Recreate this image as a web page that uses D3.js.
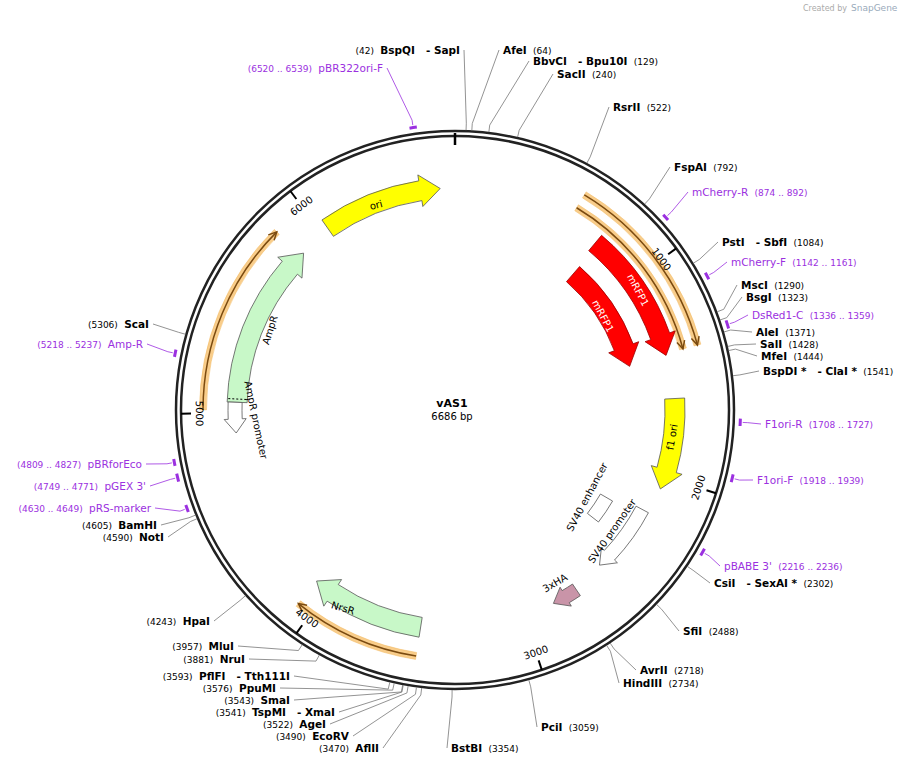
<!DOCTYPE html><html><head><meta charset="utf-8">
<script src="https://cdn.jsdelivr.net/npm/d3@7"></script>
<style>body{margin:0;background:#fff}</style></head><body>
<script>
const total = 6686;
const featNames = ["ori","mRFP1","mRFP1","f1 ori","SV40 enhancer","SV40 promoter","3xHA","NrsR","AmpR","AmpR promoter"];
const featStart = [6036,743,761,1616,2229,2191,2711,3510,5052,4903];
const featEnd   = [6615,1402,1411,2062,2377,2545,2842,4067,5869,5052];
const featDir   = [1,1,1,1,0,1,1,1,1,-1];
const bandStart = [576,576,3510,5015];
const bandEnd   = [1393,1393,4067,5850];
const bandDir   = [1,1,1,1];
const enzNames = ["BspQI\u00a0\u00a0 - SapI","AfeI","BbvCI\u00a0\u00a0 - Bpu10I","SacII","RsrII","FspAI","PstI\u00a0\u00a0 - SbfI","MscI","BsgI","AleI","SalI","MfeI","BspDI *\u00a0\u00a0 - ClaI *","CsiI\u00a0\u00a0 - SexAI *","SfiI","AvrII","HindIII","PciI","BstBI","AflII","EcoRV","AgeI","TspMI\u00a0\u00a0 - XmaI","SmaI","PpuMI","PflFI\u00a0\u00a0 - Tth111I","NruI","MluI","HpaI","NotI","BamHI","ScaI"];
const enzPos = [42,64,129,240,522,792,1084,1290,1323,1371,1428,1444,1541,2302,2488,2718,2734,3059,3354,3470,3490,3522,3541,3543,3576,3593,3881,3957,4243,4590,4605,5306];
const primNames = ["pBR322ori-F","mCherry-R","mCherry-F","DsRed1-C","F1ori-R","F1ori-F","pBABE 3'","pRS-marker","pGEX 3'","pBRforEco","Amp-R"];
const primStart = [6520,874,1142,1336,1708,1918,2216,4630,4749,4809,5218];
const primEnd   = [6539,892,1161,1359,1727,1939,2236,4649,4771,4827,5237];
const tickVals = [1000,2000,3000,4000,5000,6000];

const W=900,H=766,cx=455,cy=410,R=279;
const svg=d3.select("body").append("svg").attr("width",W).attr("height",H).style("font-family","DejaVu Sans, Verdana, sans-serif");
const ang=d3.scaleLinear().domain([0,total]).range([0,2*Math.PI]);
const P=(a,r)=>[cx+r*Math.sin(a),cy-r*Math.cos(a)];

svg.append("text").attr("x",803).attr("y",11).attr("font-size",8).attr("fill","#aaa").text("Created by");
svg.append("text").attr("x",851).attr("y",11).attr("font-size",9).attr("fill","#9ab").text("SnapGene");

const featR=[222,218,180,220,175,212,217,220,218,220];
const featW=[20,20,20,20,14,14,14,20,20,14];
const featFill=["#ffff00","#ff0000","#ff0000","#ffff00","#fff","#fff","#c994a8","#c8f8c8","#c8f8c8","#fff"];

function arrowPath(r,w,a0,a1,dir,hw,hlen){
  const p=d3.path();
  const ro=r+w/2, ri=r-w/2;
  if(dir===0){
    p.moveTo(...P(a0,ro));
    p.arc(cx,cy,ro,a0-Math.PI/2,a1-Math.PI/2,false);
    p.lineTo(...P(a1,ri));
    p.arc(cx,cy,ri,a1-Math.PI/2,a0-Math.PI/2,true);
    p.closePath(); return p.toString();
  }
  const h=hlen/r;
  if(dir===1){
    const b=a1-h;
    p.moveTo(...P(a0,ro));
    p.arc(cx,cy,ro,a0-Math.PI/2,b-Math.PI/2,false);
    p.lineTo(...P(b,ro+hw)); p.lineTo(...P(a1,r)); p.lineTo(...P(b,ri-hw)); p.lineTo(...P(b,ri));
    p.arc(cx,cy,ri,b-Math.PI/2,a0-Math.PI/2,true);
  } else {
    const b=a0+h;
    p.moveTo(...P(a1,ro));
    p.arc(cx,cy,ro,a1-Math.PI/2,b-Math.PI/2,true);
    p.lineTo(...P(b,ro+hw)); p.lineTo(...P(a0,r)); p.lineTo(...P(b,ri-hw)); p.lineTo(...P(b,ri));
    p.arc(cx,cy,ri,b-Math.PI/2,a1-Math.PI/2,false);
  }
  p.closePath(); return p.toString();
}

const bandR=[251,236,249,252];
bandStart.forEach((s,i)=>{
  const a0=ang(s),a1=ang(bandEnd[i]),r=bandR[i];
  svg.append("path").attr("d",d3.arc()({innerRadius:r-3.5,outerRadius:r+3.5,startAngle:a0,endAngle:a1})).attr("transform",`translate(${cx},${cy})`).attr("fill","#f9cd8a").attr("stroke","#f0b860").attr("stroke-width",0.5);
  const p=d3.path(); p.arc(cx,cy,r,a0-Math.PI/2,a1-Math.PI/2,false);
  svg.append("path").attr("d",p.toString()).attr("fill","none").attr("stroke","#7a4a10").attr("stroke-width",1.5);
  const tip=bandDir[i]===1?a1:a0, back=tip-bandDir[i]*8/r;
  svg.append("path").attr("d",d3.line()([P(back,r+4),P(tip,r),P(back,r-4)])).attr("fill","none").attr("stroke","#7a4a10").attr("stroke-width",1.5);
});

featNames.forEach((n,i)=>{
  svg.append("path").attr("d",arrowPath(featR[i],featW[i],ang(featStart[i]),ang(featEnd[i]),featDir[i],featW[i]===20?6:4,featW[i]===20?20:14))
   .attr("fill",featFill[i]).attr("stroke",featFill[i]==="#ff0000"?"#900":"#555").attr("stroke-width",0.8);
});
svg.append("path").attr("d",d3.line()([P(ang(5068),209),P(ang(5068),228)])).attr("stroke","#000").attr("stroke-dasharray","2,2");

const fl=[["ori",376,205,-15,"#000"],["mRFP1",638,290,62,"#fff"],["mRFP1",603,316,62,"#fff"],["f1 ori",672,437,-80,"#000"],
["SV40 enhancer",587,497,-62,"#000"],["SV40 promoter",612,531,-55,"#000"],["3xHA",555,583,-30,"#000"],["NrsR",343,608,17,"#000"],
["AmpR",270,330,-72,"#000"],["AmpR promoter",256,420,78,"#000"]];
fl.forEach(d=>svg.append("text").attr("transform",`translate(${d[1]},${d[2]}) rotate(${d[3]})`).attr("text-anchor","middle").attr("dy","0.35em").attr("font-size",10).attr("fill",d[4]).text(d[0]));

[R,R-5].forEach(r=>svg.append("circle").attr("cx",cx).attr("cy",cy).attr("r",r).attr("fill","none").attr("stroke","#222").attr("stroke-width",2.5));
svg.append("line").attr("x1",cx).attr("x2",cx).attr("y1",cy-R+2).attr("y2",cy-R+14).attr("stroke","#000").attr("stroke-width",2.5);
tickVals.forEach(t=>{
  const a=ang(t);
  svg.append("path").attr("d",d3.line()([P(a,R-5),P(a,R-15)])).attr("stroke","#000").attr("stroke-width",2);
  const [x,y]=P(a,R-20); let deg=a*180/Math.PI; if(deg>90&&deg<270) deg-=180;
  svg.append("text").attr("transform",`translate(${x},${y}) rotate(${deg})`).attr("text-anchor","middle").attr("dy",deg===a*180/Math.PI?"0.7em":"0em").attr("font-size",10).text(t);
});

svg.append("text").attr("x",452).attr("y",407).attr("text-anchor","middle").attr("font-size",11).attr("font-weight","bold").text("vAS1");
svg.append("text").attr("x",452).attr("y",420).attr("text-anchor","middle").attr("font-size",10).text("6686 bp");

const enzLab=[[460,54,-1],[503,54,1],[533,65,1],[557,78,1],[613,111,1],[674,171,1],[722,246,1],[741,289,1],[746,301,1],[756,336,1],[760,348,1],[761,360,1],[763,375,1],
[714,587,1],[683,635,1],[640,674,1],[623,687,1],[541,731,1],[451,752,1],[379,752,-1],[349,740,-1],[326,728,-1],[335,716,-1],[290,704,-1],[276,692,-1],[290,680,-1],[245,663,-1],[234,650,-1],[210,625,-1],[164,541,-1],[157,529,-1],[149,328,-1]];
function lab(x,y,side,name,pos,bold,color){
  const t=svg.append("text").attr("x",x).attr("y",y).attr("text-anchor",side===1?"start":"end").attr("fill",color);
  const nm=()=>t.append("tspan").attr("font-size",10.5).attr("font-weight",bold?"bold":"normal").text(name);
  const ps=()=>t.append("tspan").attr("font-size",9).attr("font-weight","normal").text(pos);
  if(side===1){nm(); t.append("tspan").attr("font-size",10).text("\u00a0\u00a0"); ps();} else {ps(); t.append("tspan").attr("font-size",10).text("\u00a0\u00a0"); nm();}
}
enzNames.forEach((n,i)=>{
  const [x,y,s]=enzLab[i]; const a=ang(enzPos[i]);
  svg.append("path").attr("d",d3.line()([P(a,R+1),P(a,R+8),[x-s*4,y-4]])).attr("fill","none").attr("stroke","#777").attr("stroke-width",0.8);
  lab(x,y,s,n,`(${enzPos[i]})`,true,"#000");
});
const primLab=[[383,72,-1],[692,196,1],[731,266,1],[752,319,1],[765,428,1],[757,484,1],[724,570,1],[151,512,-1],[146,490,-1],[142,468,-1],[143,348,-1]];
primNames.forEach((n,i)=>{
  const a0=ang(primStart[i]),a1=ang(primEnd[i]),am=(a0+a1)/2; const [x,y,s]=primLab[i];
  svg.append("path").attr("d",d3.arc()({innerRadius:R+5,outerRadius:R+8,startAngle:a0-0.004,endAngle:a1+0.004})).attr("transform",`translate(${cx},${cy})`).attr("fill","#9b30e0");
  svg.append("path").attr("d",d3.line()([P(am,R+9),P(am,R+14),[x-s*4,y-4]])).attr("fill","none").attr("stroke","#9b30e0").attr("stroke-width",0.8);
  lab(x,y,s,n,`(${primStart[i]} .. ${primEnd[i]})`,false,"#9b30e0");
});
</script></body></html>
